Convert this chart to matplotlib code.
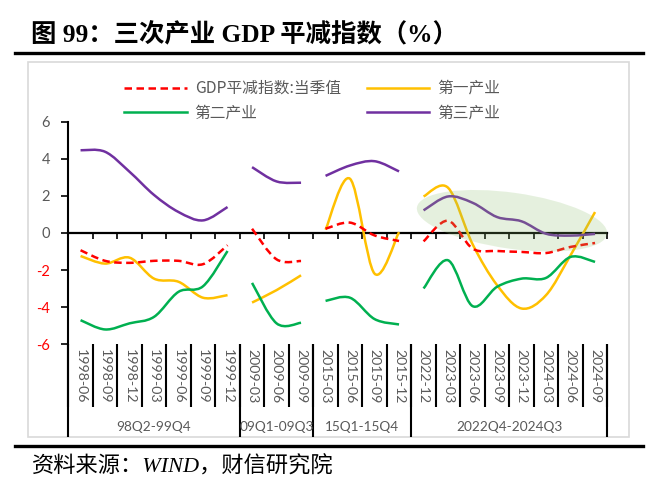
import numpy as np
import matplotlib
matplotlib.use("Agg")
import matplotlib.pyplot as plt
from matplotlib.path import Path
from matplotlib.patches import PathPatch, Ellipse, Rectangle
from matplotlib.lines import Line2D
import matplotlib.transforms as mtransforms

plt.rcParams['font.family'] = ['Noto Sans CJK SC', 'DejaVu Sans']

# ---------------- data ----------------
categories = ['1998-06', '1998-09', '1998-12', '1999-03', '1999-06', '1999-09', '1999-12',
              '2009-03', '2009-06', '2009-09',
              '2015-03', '2015-06', '2015-09', '2015-12',
              '2022-12', '2023-03', '2023-06', '2023-09', '2023-12', '2024-03', '2024-06', '2024-09']
group_names = ['98Q2-99Q4', '09Q1-09Q3', '15Q1-15Q4', '2022Q4-2024Q3']
group_sizes = [7, 3, 4, 8]

gdp_deflator = [-0.93, -1.50, -1.61, -1.50, -1.50, -1.68, -0.66,
                0.23, -1.42, -1.51,
                0.23, 0.56, -0.13, -0.43,
                -0.45, 0.66, -0.84, -0.97, -1.02, -1.08, -0.75, -0.54]
primary = [-1.24, -1.65, -1.33, -2.46, -2.63, -3.49, -3.35,
           -3.75, -3.08, -2.28,
           0.18, 2.92, -2.19, 0.05,
           1.97, 2.44, -0.60, -2.81, -4.07, -3.35, -1.20, 1.13]
secondary = [-4.70, -5.20, -4.87, -4.52, -3.17, -2.87, -0.97,
             -2.69, -4.87, -4.84,
             -3.66, -3.49, -4.64, -4.93,
             -2.99, -1.47, -3.94, -2.90, -2.46, -2.42, -1.29, -1.56]
tertiary = [4.46, 4.38, 3.30, 2.05, 1.13, 0.68, 1.40,
            3.55, 2.78, 2.71,
            3.08, 3.64, 3.87, 3.32,
            1.22, 1.97, 1.63, 0.86, 0.63, -0.04, -0.14, -0.05]

series_names = ['GDP平减指数:当季值', '第一产业', '第二产业', '第三产业']

# ---------------- figure ----------------
W, H = 655, 490
fig = plt.figure(figsize=(W / 100, H / 100), dpi=100)

def fx(px):
    return px / W

def fy(py):
    return 1 - py / H

# chart frame
fig.add_artist(Rectangle((fx(28), fy(437)), fx(629) - fx(28), fy(62) - fy(437),
                         transform=fig.transFigure, facecolor='none',
                         edgecolor='#D9D9D9', lw=1.2, zorder=0))

ax_left, ax_right, ax_top, ax_bot = 68.3, 607.3, 121.7, 344.3
ax = fig.add_axes([fx(ax_left), fy(ax_bot), fx(ax_right - ax_left), (ax_bot - ax_top) / H])
ax.patch.set_alpha(0)

n = len(categories)
ax.set_xlim(0, n)
ax.set_ylim(-6, 6)

for s in ['top', 'right']:
    ax.spines[s].set_visible(False)
ax.spines['left'].set_color('black')
ax.spines['left'].set_linewidth(1.5)
ax.spines['bottom'].set_position(('data', 0))
ax.spines['bottom'].set_color('black')
ax.spines['bottom'].set_linewidth(1.6)
ax.spines['bottom'].set_zorder(3)

ax.set_xticks(np.arange(0, n + 1))
ax.set_xticklabels([])
ax.tick_params(axis='x', direction='out', length=4, width=1.2, color='black')

yt = np.arange(-6, 7, 2)
ax.set_yticks(yt)
ax.set_yticklabels([str(v) for v in yt], fontsize=10.5, family=['Lato', 'DejaVu Sans'])
for lab, v in zip(ax.get_yticklabels(), yt):
    lab.set_color('#FF0000' if v < 0 else '#595959')
ax.tick_params(axis='y', direction='out', length=5, width=1.2, color='black', pad=8)

# multi-level category axis
trans_b = mtransforms.blended_transform_factory(ax.transData, ax.transAxes)
axh = ax_bot - ax_top
ax.vlines(np.arange(0, n + 1), 0, -(407 - ax_bot) / axh, transform=trans_b,
          colors='black', lw=1.5, clip_on=False)
bounds = np.concatenate([[0], np.cumsum(group_sizes)])
ax.vlines(bounds, 0, -(437 - ax_bot) / axh, transform=trans_b,
          colors='black', lw=1.5, clip_on=False)
for i, c in enumerate(categories):
    ax.text(i + 0.5, -(349 - ax_bot) / axh, c, transform=trans_b, rotation=270,
            ha='center', va='top', fontsize=10.2, color='#595959',
            family=['Lato', 'DejaVu Sans'])
for k, name in enumerate(group_names):
    xc = (bounds[k] + bounds[k + 1]) / 2
    ax.text(xc, -(427 - ax_bot) / axh, name, transform=trans_b,
            ha='center', va='center', fontsize=9.8, color='#595959',
            family=['Lato', 'DejaVu Sans'])

# ---------------- smoothed lines ----------------
def smooth_path(xs, ys):
    pts = np.column_stack([xs, ys])
    m = len(pts)
    verts = [pts[0]]
    codes = [Path.MOVETO]
    for i in range(m - 1):
        p0 = pts[i - 1] if i > 0 else pts[i]
        p1 = pts[i]
        p2 = pts[i + 1]
        p3 = pts[i + 2] if i + 2 < m else pts[i + 1]
        c1 = p1 + (p2 - p0) / 6.0
        c2 = p2 - (p3 - p1) / 6.0
        verts += [c1, c2, p2]
        codes += [Path.CURVE4] * 3
    return Path(verts, codes)

styles = [
    (gdp_deflator, '#FF0000', (0, (3.0, 1.8))),
    (primary, '#FFC000', '-'),
    (secondary, '#00B050', '-'),
    (tertiary, '#7030A0', '-'),
]
xcent = np.arange(n) + 0.5
zorders = [6, 4, 4, 5]
for (vals, col, ls), z in zip(styles, zorders):
    vals = np.asarray(vals, dtype=float)
    for k in range(len(group_sizes)):
        a, b = bounds[k], bounds[k + 1]
        p = smooth_path(xcent[a:b], vals[a:b])
        ax.add_patch(PathPatch(p, fill=False, edgecolor=col, lw=1.8, linestyle=ls,
                               capstyle='butt', joinstyle='round', zorder=z))

# highlight ellipse over the last group
xc_e, yc_e = 18.11, 0.66
etrans = fig.dpi_scale_trans + mtransforms.ScaledTranslation(xc_e, yc_e, ax.transData)
ax.add_patch(Ellipse((0, 0), 1.92, 0.56, angle=-8, transform=etrans,
                     facecolor='#8BBF6B', alpha=0.22, edgecolor='none', zorder=8,
                     clip_on=False))

# legend
handles = [Line2D([], [], color=c, lw=1.8, linestyle=ls) for (_, c, ls) in styles]
order = [0, 2, 1, 3]
leg = fig.legend([handles[i] for i in order], [series_names[i] for i in order],
                 ncol=2, loc='upper left', bbox_to_anchor=(fx(124), fy(80)),
                 bbox_transform=fig.transFigure, frameon=False, fontsize=11.3,
                 handlelength=4.0, handletextpad=0.5, columnspacing=1.65,
                 labelspacing=0.45, borderpad=0, borderaxespad=0)
for t in leg.get_texts():
    t.set_color('#595959')

# ---------------- title & footer ----------------
fig.text(fx(31), fy(35), '图 99：三次产业 GDP 平减指数（%）', fontsize=18.3,
         fontweight='bold', family=['Liberation Serif', 'Noto Sans CJK SC'],
         ha='left', va='center', color='black')
fig.add_artist(Line2D([fx(15), fx(643)], [fy(53), fy(53)], transform=fig.transFigure,
                      color='black', lw=2.4))
fig.add_artist(Line2D([fx(15), fx(643)], [fy(446), fy(446)], transform=fig.transFigure,
                      color='black', lw=2.4))
fig.text(fx(32), fy(467), '资料来源：WIND，财信研究院', fontsize=16,
         family=['Liberation Serif', 'Noto Sans CJK SC'], style='italic',
         ha='left', va='center', color='black')

fig.savefig('out.png', dpi=100)
